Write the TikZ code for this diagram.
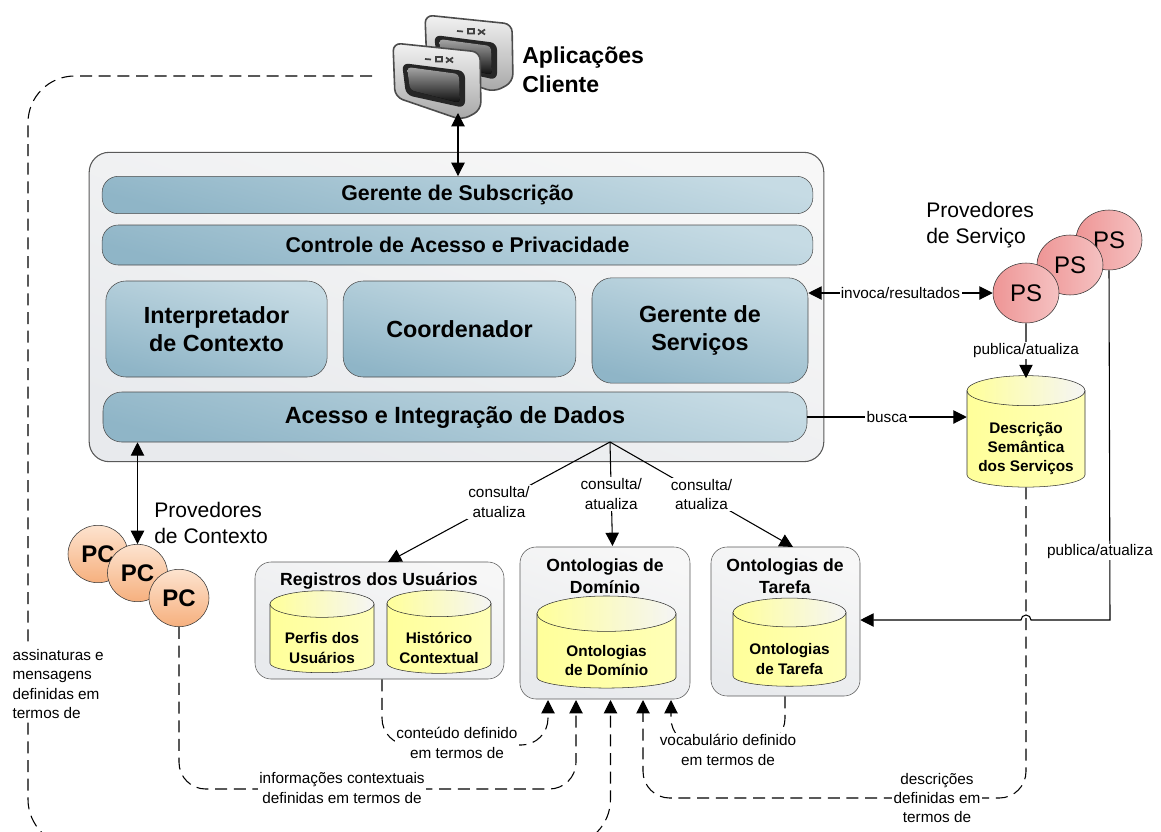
\documentclass[tikz,border=0pt]{standalone}
\usepackage{fontspec}
\setmainfont{Liberation Sans}
\usetikzlibrary{positioning,arrows.meta,shapes.geometric,calc}
\definecolor{barlo}{HTML}{8FB5C7}
\definecolor{barhi}{HTML}{C6DBE4}
\definecolor{boxlo}{HTML}{E8EAED}
\definecolor{boxhi}{HTML}{F7F7F7}
\definecolor{dblo}{HTML}{FFFF9A}
\definecolor{dbhi}{HTML}{FFFFB8}
\definecolor{pclo}{HTML}{F6B07E}
\definecolor{pchi}{HTML}{FDE3CF}
\definecolor{pslo}{HTML}{EE9595}
\definecolor{pshi}{HTML}{F5C2C2}
\tikzset{
appwin/.pic={
\draw[draw=black!70,line width=1.2pt,rounded corners=6pt,top color=black!5,bottom color=black!35] (0,0) -- (87,9) -- (88,67) -- (69,77) -- (2,54) -- cycle;
\fill[black!85,rounded corners=5pt] (9,20) -- (72,28) -- (72,65) -- (13,52) -- cycle;
\fill[rounded corners=3pt,top color=black!35,middle color=black!60,bottom color=black!95] (14,24) -- (66,31) -- (67,60) -- (17,47) -- cycle;
\draw[black!75,line width=1.3pt] (32,16) -- (38,16.5) (43,14) rectangle (49,18.5) (53,14.5) -- (60,19.5) (53,19.5) -- (60,14.5);
}}
\begin{document}
\begin{tikzpicture}[x=0.75pt,y=-0.75pt,
mainbox/.style={rectangle, rounded corners=15pt, draw=black!65, thick, bottom color=boxlo, top color=boxhi, shading angle=-20, anchor=center},
bar/.style={rectangle, rounded corners=12pt, draw=black!70, bottom color=barlo, top color=barhi, shading angle=-15, font=\bfseries\fontsize{16}{19}\selectfont, align=center},
bigbar/.style={bar, rounded corners=15pt, font=\bfseries\fontsize{17.5}{21.5}\selectfont},
store/.style={cylinder, shape border rotate=90, draw=black!80, left color=dblo, right color=dbhi, inner sep=0pt, shape aspect=.255, align=center, font=\bfseries\fontsize{11.5}{14.5}\selectfont},
boxtitle/.style={align=center, font=\bfseries\fontsize{13.2}{16.5}\selectfont},
pcnode/.style={ellipse, draw=black!80, top color=pchi, bottom color=pclo, minimum width=45pt, minimum height=43pt, inner sep=0pt, font=\bfseries\fontsize{18}{20}\selectfont},
psnode/.style={ellipse, draw=black!80, left color=pslo, right color=pshi, minimum width=49.5pt, minimum height=45pt, inner sep=0pt, font=\fontsize{18}{20}\selectfont},
regbox/.style={mainbox, rounded corners=12pt, thin},
tag/.style={fill=white, inner sep=1pt, align=center, font=\fontsize{11.5}{14.5}\selectfont},
title/.style={align=left, inner sep=0pt, anchor=west},
arr/.style={-{Triangle[length=10pt,width=10pt]}, line width=0.8pt},
dasharr/.style={arr, dash pattern=on 9pt off 5pt, rounded corners=20pt},
]
\path[use as bounding box,clip] (0,0) rectangle (1161,832);
%% Client windows
\pic at (425,15) {appwin};
\pic at (393,43) {appwin};
\coordinate (app) at (458,113);
\coordinate (apptail) at (372,76);
\node[title, font=\bfseries\fontsize{17.3}{22}\selectfont] (applabel) at (522,70) {Aplicações\\Cliente};
%% Main box
\node[mainbox, minimum width=551pt, minimum height=232pt] (main) at (456.5,307) {};
\node[bar, minimum width=533pt, minimum height=28pt] (subs) at (457.5,195) {Gerente de Subscrição};
\node[bar, minimum width=533pt, minimum height=30pt] (priv) at (457.5,245) {\raisebox{1pt}{Controle de Acesso e Privacidade}};
\node[bigbar, minimum width=166pt, minimum height=72pt] (interp) at (216.5,329) {Interpretador\\de Contexto};
\node[bigbar, minimum width=174.5pt, minimum height=72pt] (coord) at (459.5,329) {Coordenador};
\node[bigbar, minimum width=162pt, minimum height=79pt] (gserv) at (700,330.5) {Gerente de\\Serviços};
\node[bar, rounded corners=14pt, font=\bfseries\fontsize{17.6}{20}\selectfont, minimum width=528pt, minimum height=37.5pt] (acesso) at (455,417) {Acesso e Integração de Dados};
%% Service providers
\node[psnode] (ps3) at (1109,240) {PS};
\node[psnode] (ps2) at (1070,265) {PS};
\node[psnode] (ps1) at (1026,293) {PS};
\node[title, font=\fontsize{15.8}{19.5}\selectfont] (pslabel) at (926,225) {Provedores\\de Serviço};
\node[store, minimum height=79.5pt, minimum width=88.5pt] (desc) at (1026,439) {\rule{0pt}{8pt}\\Descrição\\Semântica\\dos Serviços};
%% Context providers
\node[pcnode] (pc1) at (98,554) {PC};
\node[pcnode] (pc2) at (137.5,573) {PC};
\node[pcnode] (pc3) at (179,598) {PC};
\node[title, font=\fontsize{15.8}{19.5}\selectfont] (pclabel) at (154,523) {Provedores\\de Contexto};
%% Repositories
\node[regbox, minimum width=186.75pt, minimum height=87.75pt] (reg) at (379.5,620.5) {};
\node[boxtitle] (regtitle) at (379,581) {Registros dos Usuários};
\node[store, minimum height=54.75pt, minimum width=78pt] (perfis) at (322,638.5) {\rule{0pt}{8pt}\\Perfis dos\\Usuários};
\node[store, minimum height=54.75pt, minimum width=78pt] (hist) at (439,638.5) {\rule{0pt}{8pt}\\Histórico\\Contextual};
\node[regbox, minimum width=127.5pt, minimum height=114pt] (dom) at (605,623) {};
\node[boxtitle] (domtitle) at (605,576) {Ontologias de\\Domínio};
\node[store, minimum height=63.75pt, minimum width=104.25pt] (ontdom) at (606.5,651) {\rule{0pt}{8pt}\\Ontologias\\de Domínio};
\node[regbox, minimum width=111.75pt, minimum height=111.75pt] (tar) at (785.5,621.5) {};
\node[boxtitle] (tartitle) at (785,576) {Ontologias de\\Tarefa};
\node[store, minimum height=63pt, minimum width=84.75pt] (onttar) at (789.5,649.5) {\rule{0pt}{8pt}\\Ontologias\\de Tarefa};
%% Database lids
\foreach \n/\rx/\ry in {desc/59/15, perfis/52/13.3, hist/52/13.3, ontdom/69.5/17.7, onttar/56.5/14.4}
  \shade[draw=black!80, left color=dblo, right color=black!4] ($(\n.before top)!.5!(\n.after top)$) ellipse [x radius=\rx, y radius=\ry];
%% Points along the foot of the domain box
\coordinate (d1) at (548,700);
\coordinate (d2) at (576,700);
\coordinate (d3) at (610.5,700);
\coordinate (d4) at (643,700);
\coordinate (d5) at (671,700);
\coordinate (q) at (610,442);
%% Lines
\draw[arr, {Triangle[length=10pt,width=10pt]}-{Triangle[length=10pt,width=10pt]}] (app) -- (subs.north -| app);
\draw[arr, {Triangle[length=10pt,width=10pt]}-{Triangle[length=10pt,width=10pt]}] (acesso.south -| pc2) -- (pc2.north);
\draw[arr, {Triangle[length=10pt,width=10pt]}-{Triangle[length=10pt,width=10pt]}] (gserv.east |- ps1.west) -- node[tag]{invoca/resultados} (ps1.west);
\draw[arr] (acesso.east) -- node[tag]{busca} (desc.west |- acesso.east);
\draw[arr] (ps1.south) -- node[tag]{publica/atualiza} (desc.north);
\draw[arr] (q) -- node[tag]{consulta/\\atualiza} (388,562);
\draw[arr] (q) -- node[tag, pos=.5]{consulta/\\atualiza} (612.5,546);
\draw[arr] (q) -- node[tag, pos=.5]{consulta/\\atualiza} (793,547);
\draw[arr] (ps3.south) -- (1110,620) -- (1031,620) arc[start angle=0, end angle=-180, radius=5] -- (tar.east |- 0,620);
\node[tag] (pub) at (1100,552) {publica/atualiza};
\draw[dasharr, rounded corners=35pt] (apptail) -- (28,76) -- (28,846) -- (d3 |- 0,846) -- (d3);
\draw[dasharr] (reg.south -| 382,0) -- (382,745) -- (d1 |- 0,745) -- (d1);
\node[tag] (conteudo) at (457,743) {conteúdo definido\\em termos de};
\draw[dasharr] (pc3.south) -- (pc3 |- 0,789) -- (d2 |- 0,789) -- (d2);
\node[tag] (contextuais) at (342,788) {informações contextuais\\definidas em termos de};
\draw[dasharr] (tar.south -| 785,0) -- (785,745) -- (d5 |- 0,745) -- (d5);
\node[tag] (vocab) at (728,750) {vocabulário definido\\em termos de};
\draw[dasharr] (desc.south) -- (desc |- 0,798) -- (d4 |- 0,798) -- (d4);
\node[tag] (descr) at (937,798) {descrições\\definidas em\\termos de};
\node[tag, align=left, anchor=west] (assin) at (11,684) {assinaturas e\\mensagens\\definidas em\\termos de};
\end{tikzpicture}
\end{document}
